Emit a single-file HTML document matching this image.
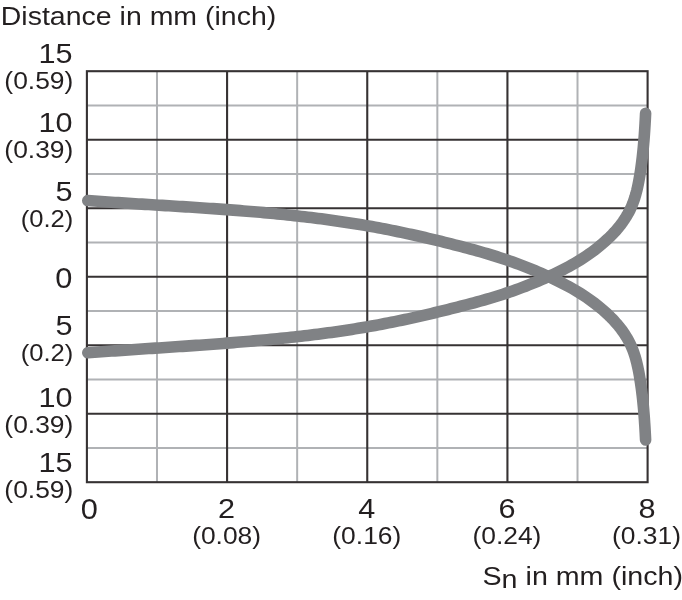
<!DOCTYPE html>
<html><head><meta charset="utf-8"><title>Chart</title>
<style>html,body{margin:0;padding:0;background:#fff}svg{display:block;filter:blur(0.5px)}</style>
</head><body>
<svg width="682" height="600" viewBox="0 0 682 600">
<rect width="682" height="600" fill="#fff"/>
<g stroke="#b0b2b5" stroke-width="2.0" fill="none">
<line x1="156.99" y1="71.20" x2="156.99" y2="482.20"/>
<line x1="297.16" y1="71.20" x2="297.16" y2="482.20"/>
<line x1="437.34" y1="71.20" x2="437.34" y2="482.20"/>
<line x1="577.51" y1="71.20" x2="577.51" y2="482.20"/>
<line x1="86.90" y1="105.45" x2="647.60" y2="105.45"/>
<line x1="86.90" y1="173.95" x2="647.60" y2="173.95"/>
<line x1="86.90" y1="242.45" x2="647.60" y2="242.45"/>
<line x1="86.90" y1="310.95" x2="647.60" y2="310.95"/>
<line x1="86.90" y1="379.45" x2="647.60" y2="379.45"/>
<line x1="86.90" y1="447.95" x2="647.60" y2="447.95"/>
</g>
<g stroke="#363233" stroke-width="2.1" fill="none">
<rect x="86.90" y="71.20" width="560.70" height="411.00"/>
<line x1="227.08" y1="71.20" x2="227.08" y2="482.20"/>
<line x1="367.25" y1="71.20" x2="367.25" y2="482.20"/>
<line x1="507.43" y1="71.20" x2="507.43" y2="482.20"/>
<line x1="86.90" y1="139.70" x2="647.60" y2="139.70"/>
<line x1="86.90" y1="208.20" x2="647.60" y2="208.20"/>
<line x1="86.90" y1="276.70" x2="647.60" y2="276.70"/>
<line x1="86.90" y1="345.20" x2="647.60" y2="345.20"/>
<line x1="86.90" y1="413.70" x2="647.60" y2="413.70"/>
</g>
<g stroke="#808285" stroke-width="11.6" fill="none" stroke-linecap="round" stroke-linejoin="round">
<path d="M87.81 200.59 L91.18 200.84 L94.55 201.07 L97.92 201.31 L101.29 201.54 L104.66 201.77 L108.04 202.00 L111.41 202.22 L114.79 202.45 L118.17 202.66 L121.54 202.88 L124.92 203.10 L128.31 203.31 L131.69 203.52 L135.07 203.73 L138.45 203.94 L141.84 204.15 L145.22 204.36 L148.61 204.57 L152.00 204.77 L155.39 204.98 L158.77 205.19 L162.16 205.39 L165.55 205.60 L168.94 205.81 L172.33 206.02 L175.73 206.23 L179.12 206.44 L182.51 206.65 L185.90 206.86 L189.29 207.08 L192.69 207.29 L196.08 207.51 L199.47 207.74 L202.86 207.96 L206.26 208.19 L209.65 208.42 L213.04 208.65 L216.44 208.88 L219.83 209.12 L223.22 209.37 L226.61 209.61 L230.01 209.86 L233.40 210.12 L236.79 210.38 L240.18 210.64 L243.57 210.91 L246.96 211.18 L250.35 211.46 L253.74 211.75 L257.13 212.04 L260.51 212.33 L263.90 212.63 L267.29 212.94 L270.67 213.25 L274.06 213.57 L277.44 213.90 L280.82 214.24 L284.21 214.58 L287.59 214.92 L290.97 215.28 L294.35 215.64 L297.72 216.01 L301.10 216.39 L304.47 216.78 L307.85 217.18 L311.22 217.58 L314.59 217.99 L317.96 218.42 L321.33 218.85 L324.70 219.29 L328.06 219.74 L331.43 220.20 L334.79 220.67 L338.15 221.15 L341.51 221.64 L344.87 222.14 L348.22 222.65 L351.57 223.17 L354.93 223.71 L358.28 224.25 L361.62 224.81 L364.97 225.38 L368.31 225.96 L371.66 226.55 L375.00 227.15 L378.33 227.77 L381.67 228.39 L385.00 229.03 L388.33 229.68 L391.66 230.34 L394.99 231.01 L398.31 231.70 L401.63 232.39 L404.95 233.09 L408.26 233.80 L411.58 234.53 L414.89 235.26 L418.20 236.00 L421.50 236.75 L424.80 237.51 L428.10 238.28 L431.40 239.06 L434.70 239.85 L437.99 240.65 L441.27 241.46 L444.56 242.27 L447.84 243.09 L451.12 243.92 L454.40 244.76 L457.67 245.61 L460.94 246.46 L464.20 247.32 L467.46 248.20 L470.72 249.08 L473.98 249.97 L477.23 250.87 L480.48 251.79 L483.73 252.73 L486.97 253.68 L490.20 254.65 L493.44 255.64 L496.67 256.65 L499.90 257.68 L503.12 258.74 L506.34 259.82 L509.55 260.92 L512.76 262.06 L515.97 263.21 L519.17 264.40 L522.36 265.61 L525.54 266.84 L528.72 268.10 L531.89 269.39 L535.04 270.70 L538.19 272.03 L541.32 273.39 L544.44 274.77 L547.54 276.17 L550.63 277.60 L553.71 279.05 L556.77 280.52 L559.81 282.02 L562.83 283.54 L565.83 285.08 L568.82 286.66 L571.78 288.29 L574.72 289.96 L577.64 291.69 L580.54 293.47 L583.41 295.32 L586.25 297.22 L589.05 299.18 L591.82 301.19 L594.55 303.24 L597.24 305.34 L599.88 307.49 L602.47 309.67 L605.01 311.90 L607.49 314.16 L609.91 316.48 L612.27 318.85 L614.56 321.28 L616.79 323.78 L618.94 326.36 L621.02 329.01 L623.01 331.75 L624.91 334.57 L626.71 337.45 L628.39 340.40 L629.95 343.41 L631.38 346.48 L632.67 349.60 L633.84 352.77 L634.89 355.98 L635.84 359.22 L636.70 362.50 L637.48 365.80 L638.19 369.13 L638.84 372.47 L639.44 375.83 L639.99 379.19 L640.51 382.55 L640.99 385.92 L641.45 389.29 L641.88 392.66 L642.28 396.04 L642.65 399.41 L643.00 402.79 L643.33 406.17 L643.63 409.55 L643.92 412.93 L644.18 416.31 L644.43 419.69 L644.65 423.07 L644.87 426.46 L645.07 429.84 L645.26 433.23 L645.43 436.61 L645.60 440.00"/>
<path d="M87.81 352.80 L91.18 352.55 L94.55 352.29 L97.92 352.04 L101.29 351.80 L104.66 351.55 L108.04 351.31 L111.41 351.08 L114.79 350.84 L118.17 350.61 L121.54 350.38 L124.92 350.15 L128.31 349.92 L131.69 349.69 L135.07 349.47 L138.45 349.25 L141.84 349.02 L145.22 348.80 L148.61 348.58 L152.00 348.36 L155.39 348.14 L158.77 347.92 L162.16 347.70 L165.55 347.47 L168.94 347.25 L172.33 347.02 L175.73 346.80 L179.12 346.57 L182.51 346.34 L185.90 346.11 L189.29 345.88 L192.69 345.64 L196.08 345.41 L199.47 345.17 L202.86 344.93 L206.26 344.68 L209.65 344.44 L213.04 344.19 L216.44 343.93 L219.83 343.68 L223.22 343.42 L226.61 343.15 L230.01 342.89 L233.40 342.61 L236.79 342.34 L240.18 342.06 L243.57 341.77 L246.96 341.48 L250.35 341.19 L253.74 340.88 L257.13 340.58 L260.51 340.27 L263.90 339.97 L267.29 339.66 L270.67 339.35 L274.06 339.03 L277.44 338.70 L280.82 338.36 L284.21 338.02 L287.59 337.68 L290.97 337.32 L294.35 336.96 L297.72 336.59 L301.10 336.21 L304.47 335.82 L307.85 335.42 L311.22 335.02 L314.59 334.61 L317.96 334.18 L321.33 333.75 L324.70 333.31 L328.06 332.86 L331.43 332.40 L334.79 331.93 L338.15 331.45 L341.51 330.96 L344.87 330.46 L348.22 329.95 L351.57 329.43 L354.93 328.89 L358.28 328.35 L361.62 327.79 L364.97 327.22 L368.31 326.64 L371.66 326.05 L375.00 325.45 L378.33 324.83 L381.67 324.21 L385.00 323.57 L388.33 322.92 L391.66 322.26 L394.99 321.59 L398.31 320.90 L401.63 320.21 L404.95 319.51 L408.26 318.80 L411.58 318.07 L414.89 317.34 L418.20 316.60 L421.50 315.85 L424.80 315.09 L428.10 314.32 L431.40 313.54 L434.70 312.75 L437.99 311.95 L441.27 311.14 L444.56 310.33 L447.84 309.51 L451.12 308.68 L454.40 307.86 L457.67 307.04 L460.94 306.20 L464.20 305.36 L467.46 304.51 L470.72 303.65 L473.98 302.78 L477.23 301.89 L480.48 300.99 L483.73 300.07 L486.97 299.14 L490.20 298.19 L493.44 297.22 L496.67 296.23 L499.90 295.22 L503.12 294.18 L506.34 293.12 L509.55 292.03 L512.76 290.92 L515.97 289.78 L519.17 288.62 L522.36 287.43 L525.54 286.21 L528.72 284.97 L531.89 283.70 L535.04 282.41 L538.19 281.10 L541.32 279.76 L544.44 278.40 L547.54 277.01 L550.63 275.60 L553.71 274.16 L556.77 272.69 L559.81 271.20 L562.83 269.69 L565.83 268.15 L568.82 266.57 L571.78 264.96 L574.72 263.29 L577.64 261.57 L580.54 259.79 L583.41 257.95 L586.25 256.05 L589.05 254.10 L591.82 252.10 L594.55 250.05 L597.24 247.95 L599.88 245.81 L602.47 243.63 L605.01 241.41 L607.49 239.15 L609.91 236.84 L612.27 234.48 L614.56 232.05 L616.79 229.55 L618.94 226.98 L621.02 224.33 L623.01 221.59 L624.91 218.78 L626.71 215.90 L628.39 212.95 L629.95 209.95 L631.38 206.88 L632.67 203.76 L633.84 200.60 L634.89 197.39 L635.84 194.15 L636.70 190.87 L637.48 187.57 L638.19 184.25 L638.84 180.91 L639.44 177.55 L639.99 174.19 L640.51 170.83 L640.99 167.46 L641.45 164.09 L641.88 160.72 L642.28 157.35 L642.65 153.97 L643.00 150.60 L643.33 147.22 L643.63 143.84 L643.92 140.46 L644.18 137.08 L644.43 133.70 L644.65 130.32 L644.87 126.93 L645.07 123.55 L645.26 120.16 L645.43 116.78 L645.60 113.39"/>
</g>
<g fill="#231f20" font-family="'Liberation Sans', sans-serif">
<text transform="translate(0.8 24.6) scale(1.109 1)" font-size="25.7" text-anchor="start">Distance in mm (inch)</text>
<text transform="translate(72.6 62.7) scale(1.090 1)" font-size="28.1" text-anchor="end">15</text>
<text transform="translate(73.3 88.5) scale(1.100 1)" font-size="24.0" text-anchor="end">(0.59)</text>
<text transform="translate(72.6 132.1) scale(1.090 1)" font-size="28.1" text-anchor="end">10</text>
<text transform="translate(73.3 157.9) scale(1.100 1)" font-size="24.0" text-anchor="end">(0.39)</text>
<text transform="translate(72.6 200.8) scale(1.090 1)" font-size="28.1" text-anchor="end">5</text>
<text transform="translate(73.3 227.3) scale(1.066 1)" font-size="24.0" text-anchor="end">(0.2)</text>
<text transform="translate(72.4 287.7) scale(1.040 1)" font-size="29.6" text-anchor="end">0</text>
<text transform="translate(72.6 335.2) scale(1.090 1)" font-size="28.1" text-anchor="end">5</text>
<text transform="translate(73.3 360.9) scale(1.066 1)" font-size="24.0" text-anchor="end">(0.2)</text>
<text transform="translate(72.6 407.0) scale(1.090 1)" font-size="28.1" text-anchor="end">10</text>
<text transform="translate(73.3 433.0) scale(1.100 1)" font-size="24.0" text-anchor="end">(0.39)</text>
<text transform="translate(72.6 472.2) scale(1.090 1)" font-size="28.1" text-anchor="end">15</text>
<text transform="translate(73.3 498.0) scale(1.100 1)" font-size="24.0" text-anchor="end">(0.59)</text>
<text transform="translate(89.2 518.8) scale(1.040 1)" font-size="29.6" text-anchor="middle">0</text>
<text transform="translate(226.6 518.2) scale(1.090 1)" font-size="28.1" text-anchor="middle">2</text>
<text transform="translate(226.6 544.3) scale(1.100 1)" font-size="24.0" text-anchor="middle">(0.08)</text>
<text transform="translate(366.8 518.2) scale(1.090 1)" font-size="28.1" text-anchor="middle">4</text>
<text transform="translate(366.8 544.3) scale(1.100 1)" font-size="24.0" text-anchor="middle">(0.16)</text>
<text transform="translate(506.9 518.2) scale(1.090 1)" font-size="28.1" text-anchor="middle">6</text>
<text transform="translate(506.9 544.3) scale(1.100 1)" font-size="24.0" text-anchor="middle">(0.24)</text>
<text transform="translate(647.1 518.2) scale(1.090 1)" font-size="28.1" text-anchor="middle">8</text>
<text transform="translate(646.5 544.3) scale(1.100 1)" font-size="24.0" text-anchor="middle">(0.31)</text>
<text transform="translate(482.5 584.8) scale(1.115 1)" font-size="25.7">S<tspan dy="3.5">n</tspan><tspan dy="-3.5"> in mm (inch)</tspan></text>
</g>
</svg>
</body></html>
